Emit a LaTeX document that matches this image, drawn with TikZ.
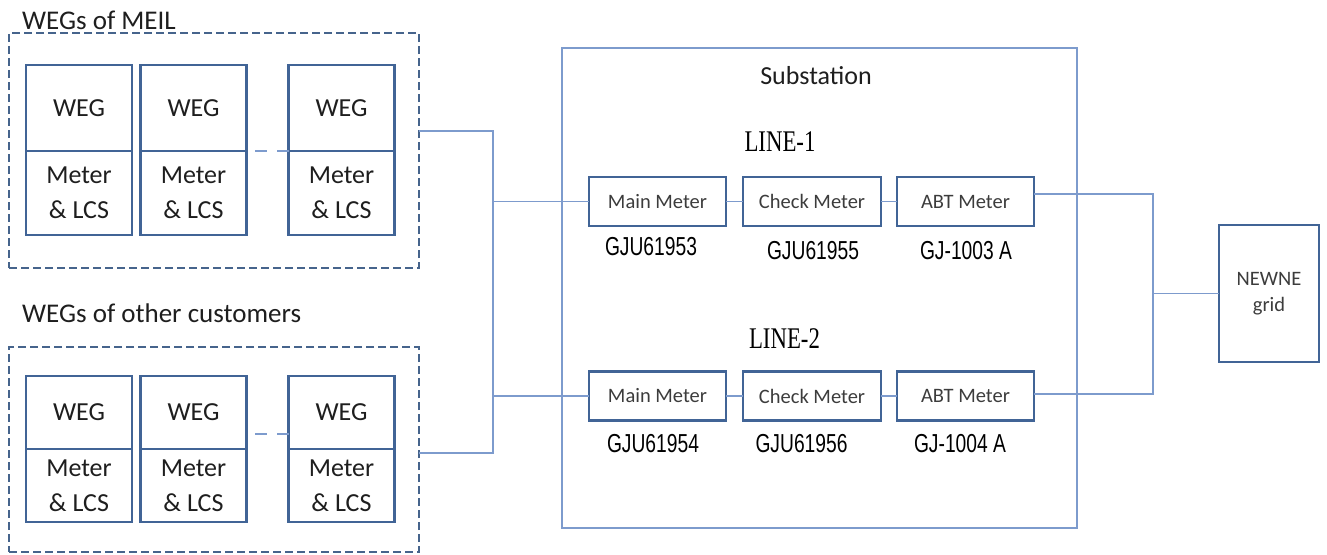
\documentclass[tikz,border=0pt]{standalone}
\usepackage{fontspec}
\setmainfont{Carlito}
\newfontfamily\arialn[FakeStretch=0.74]{Liberation Sans}
\newfontfamily\timesn[FakeStretch=0.76]{Liberation Serif}
\definecolor{boxc}{RGB}{65,100,150}
\definecolor{linec}{RGB}{125,155,205}
\definecolor{dashc}{RGB}{70,100,140}
\definecolor{txtc}{RGB}{30,30,30}
\definecolor{graytxt}{RGB}{60,60,60}
\tikzset{
  wegbox/.style={draw=boxc, line width=2.6pt, minimum width=106pt, inner sep=0pt, outer sep=0pt, text=txtc, font=\fontsize{26}{35}\selectfont, align=center},
  grpbox/.style={draw=dashc, line width=2.8pt, dash pattern=on 8pt off 4pt, inner sep=0pt, outer sep=0pt, minimum width=410pt},
  grptitle/.style={anchor=west, inner sep=0pt, text=txtc, font=\fontsize{27}{30}\selectfont},
  meterbox/.style={draw=boxc, line width=2.6pt, minimum height=49pt, inner sep=0pt, outer sep=0pt, text=graytxt, font=\fontsize{20.5}{24}\selectfont},
  idlabel/.style={inner sep=0pt, text=black, font=\arialn\fontsize{26}{30}\selectfont},
  linelabel/.style={inner sep=0pt, text=black, font=\timesn\fontsize{30}{34}\selectfont},
  conn/.style={draw=linec, line width=1.5pt},
  dotsconn/.style={draw=linec, line width=2.4pt, dash pattern=on 12pt off 10pt}
}
\begin{document}
\begin{tikzpicture}[x=1pt, y=-1pt]
\useasboundingbox (0,0) rectangle (1327,554);

% ---------- group 1 : WEGs of MEIL ----------
\node[grptitle] (t1) at (22,20) {WEGs of MEIL};
\node[grpbox, minimum height=235pt] (g1) at (214,150.5) {};
\node[wegbox, minimum height=86pt] (w1a) at (79,108) {WEG};
\node[wegbox, minimum height=84pt] (m1a) at (79,193) {Meter\\\& LCS};
\node[wegbox, minimum height=86pt] (w1b) at (193.5,108) {WEG};
\node[wegbox, minimum height=84pt] (m1b) at (193.5,193) {Meter\\\& LCS};
\node[wegbox, minimum height=86pt] (w1c) at (341.5,108) {WEG};
\node[wegbox, minimum height=84pt] (m1c) at (341.5,193) {Meter\\\& LCS};
\coordinate (d1) at (255,151);
\draw[dotsconn] (d1) -- (w1c.south west);

% ---------- group 2 : WEGs of other customers ----------
\node[grptitle] (t2) at (22,313) {WEGs of other customers};
\node[grpbox, minimum height=205pt] (g2) at (214,449.5) {};
\node[wegbox, minimum height=73pt] (w2a) at (79,412.5) {WEG};
\node[wegbox, minimum height=73pt] (m2a) at (79,485.5) {Meter\\\& LCS};
\node[wegbox, minimum height=73pt] (w2b) at (193.5,412.5) {WEG};
\node[wegbox, minimum height=73pt] (m2b) at (193.5,485.5) {Meter\\\& LCS};
\node[wegbox, minimum height=73pt] (w2c) at (341.5,412.5) {WEG};
\node[wegbox, minimum height=73pt] (m2c) at (341.5,485.5) {Meter\\\& LCS};
\coordinate (d2) at (255,434);
\draw[dotsconn] (d2) -- (w2c.west |- d2);

% ---------- substation ----------
\node[draw=linec, line width=1.5pt, minimum width=515pt, minimum height=480pt, inner sep=0pt, outer sep=0pt] (sub) at (819.5,288) {};
\node[inner sep=0pt, text=txtc, font=\fontsize{26}{30}\selectfont] (subt) at (816,76) {Substation};
\node[linelabel] (l1) at (780,142) {LINE-1};
\node[linelabel] (l2) at (784.5,339) {LINE-2};

\node[meterbox, minimum width=137pt] (mm1) at (657.5,201.5) {Main Meter};
\node[meterbox, minimum width=138pt] (cm1) at (812,201.5) {Check Meter};
\node[meterbox, minimum width=137pt] (ab1) at (965.5,201.5) {ABT Meter};
\node[meterbox, minimum width=137pt] (mm2) at (657.5,396) {Main Meter};
\node[meterbox, minimum width=138pt] (cm2) at (812,396) {Check Meter};
\node[meterbox, minimum width=137pt] (ab2) at (965.5,396) {ABT Meter};

\node[idlabel] (id1) at (651,247) {GJU61953};
\node[idlabel] (id2) at (813,251) {GJU61955};
\node[idlabel] (id3) at (966,251) {GJ-1003 A};
\node[idlabel] (id4) at (653,444) {GJU61954};
\node[idlabel] (id5) at (801.5,444) {GJU61956};
\node[idlabel] (id6) at (960,444) {GJ-1004 A};

% ---------- grid ----------
\node[meterbox, minimum width=100pt, minimum height=137pt, align=center, font=\fontsize{20.5}{26}\selectfont] (grid) at (1269,293.5) {NEWNE\\grid};

% ---------- connectors ----------
\coordinate (ja) at (493,131);
\coordinate (jb) at (493,453);
\draw[conn] (g1.east |- ja) -- (ja) -- (jb) -- (g2.east |- jb);
\draw[conn] (ja |- mm1.west) -- (mm1.west);
\draw[conn] (ja |- mm2.west) -- (mm2.west);
\draw[conn] (mm1.east) -- (cm1.west);
\draw[conn] (cm1.east) -- (ab1.west);
\draw[conn] (mm2.east) -- (cm2.west);
\draw[conn] (cm2.east) -- (ab2.west);
\coordinate (ra) at (1153,194);
\coordinate (rb) at (1153,394);
\draw[conn] (ab1.east |- ra) -- (ra) -- (rb) -- (ab2.east |- rb);
\draw[conn] (ra |- grid.west) -- (grid.west);
\end{tikzpicture}
\end{document}
